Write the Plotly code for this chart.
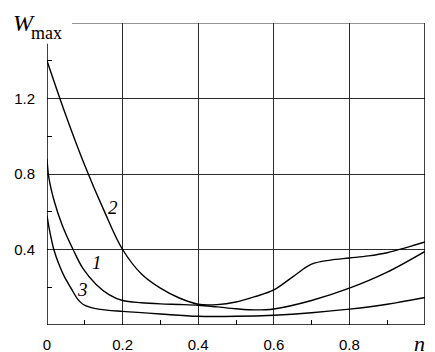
import plotly.graph_objects as go

# Curve 1
n1 = [0, 0.005, 0.02, 0.04, 0.069, 0.095, 0.13, 0.165, 0.2, 0.25, 0.3, 0.35, 0.4, 0.45, 0.5, 0.55, 0.6, 0.7, 0.8, 0.9, 1.0]
w1 = [0.88, 0.78, 0.65, 0.53, 0.40, 0.30, 0.215, 0.16, 0.13, 0.118, 0.112, 0.109, 0.105, 0.096, 0.086, 0.08, 0.085, 0.13, 0.195, 0.28, 0.39]
# Curve 2
n2 = [0, 0.05, 0.1, 0.15, 0.2, 0.25, 0.3, 0.35, 0.4, 0.45, 0.5, 0.55, 0.6, 0.65, 0.7, 0.75, 0.8, 0.85, 0.9, 0.95, 1.0]
w2 = [1.40, 1.11, 0.845, 0.61, 0.40, 0.27, 0.195, 0.143, 0.11, 0.108, 0.122, 0.15, 0.186, 0.255, 0.322, 0.344, 0.355, 0.366, 0.383, 0.41, 0.44]
# Curve 3
n3 = [0, 0.005, 0.01, 0.018, 0.03, 0.045, 0.065, 0.08, 0.095, 0.115, 0.14, 0.2, 0.3, 0.4, 0.5, 0.6, 0.7, 0.8, 0.9, 1.0]
w3 = [0.58, 0.52, 0.47, 0.40, 0.33, 0.26, 0.19, 0.14, 0.11, 0.093, 0.083, 0.072, 0.058, 0.046, 0.046, 0.052, 0.065, 0.084, 0.11, 0.146]

x_ticks = [0, 0.2, 0.4, 0.6, 0.8]
x_labels = ["0", "0.2", "0.4", "0.6", "0.8"]
y_ticks = [0.4, 0.8, 1.2]
y_labels = ["0.4", "0.8", "1.2"]

curve_labels = [("1", 0.132, 0.33), ("2", 0.175, 0.62), ("3", 0.093, 0.19)]

fig = go.Figure()
for xs, ys in [(n1, w1), (n2, w2), (n3, w3)]:
    fig.add_trace(go.Scatter(x=xs, y=ys, mode="lines",
                             line=dict(color="black", width=1.4, shape="spline", smoothing=1.0),
                             showlegend=False, hoverinfo="skip"))

grid_col = "#2a2a2a"
fig.update_layout(
    width=435, height=352,
    margin=dict(l=47, r=10, t=23, b=27),
    paper_bgcolor="white", plot_bgcolor="white",
    font=dict(family="Liberation Sans, Arial", size=15, color="black"),
    xaxis=dict(range=[0, 1], tickvals=x_ticks, ticktext=x_labels, automargin=False,
               showgrid=True, gridcolor=grid_col, gridwidth=1,
               zeroline=False, showline=False, ticks="", ticklabelstandoff=9,
               minor=dict(tickvals=[0.1, 0.3, 0.5, 0.7, 0.9], ticks="inside",
                          ticklen=5, tickcolor="black", tickwidth=1, showgrid=False),
               fixedrange=True),
    yaxis=dict(range=[0, 1.6], tickvals=y_ticks, ticktext=y_labels, automargin=False,
               showgrid=True, gridcolor=grid_col, gridwidth=1,
               zeroline=False, showline=False, ticks="", ticklabelstandoff=11,
               minor=dict(tickvals=[0.2, 0.6, 1.0, 1.4], ticks="inside",
                          ticklen=5, tickcolor="black", tickwidth=1, showgrid=False),
               fixedrange=True),
)

# Axis frame lines
fig.add_shape(type="line", xref="x", yref="y", x0=0, x1=1, y0=0, y1=0,
              line=dict(color="black", width=1.5))
fig.add_shape(type="line", xref="x", yref="y", x0=0, x1=0, y0=0, y1=1.49,
              line=dict(color="black", width=1.5))
fig.add_shape(type="line", xref="x", yref="y", x0=1, x1=1, y0=0, y1=1.6,
              line=dict(color="black", width=1.5))
fig.add_shape(type="line", xref="x", yref="y", x0=0.066, x1=1, y0=1.6, y1=1.6,
              line=dict(color=grid_col, width=1.2))

for txt, xx, yy in curve_labels:
    fig.add_annotation(x=xx, y=yy, xref="x", yref="y", text="<i>%s</i>" % txt,
                       showarrow=False, font=dict(family="Liberation Serif", size=19, color="black"))

fig.add_annotation(x=1.004, y=-0.062, xref="paper", yref="paper", text="<i>n</i>", showarrow=False,
                   yanchor="middle", font=dict(family="Liberation Serif", size=22, color="black"))
fig.add_annotation(x=-0.094, y=1.0, xref="paper", yref="paper", text="<i>W</i>", showarrow=False,
                   xanchor="left", yanchor="middle",
                   font=dict(family="Liberation Serif", size=24, color="black"))
fig.add_annotation(x=-0.048, y=0.966, xref="paper", yref="paper", text="max", showarrow=False,
                   xanchor="left", yanchor="middle",
                   font=dict(family="Liberation Serif", size=18, color="black"))

fig.write_html("out.html", config={"displayModeBar": False},
               post_script="document.body.style.margin='0';document.body.style.overflow='hidden';")
